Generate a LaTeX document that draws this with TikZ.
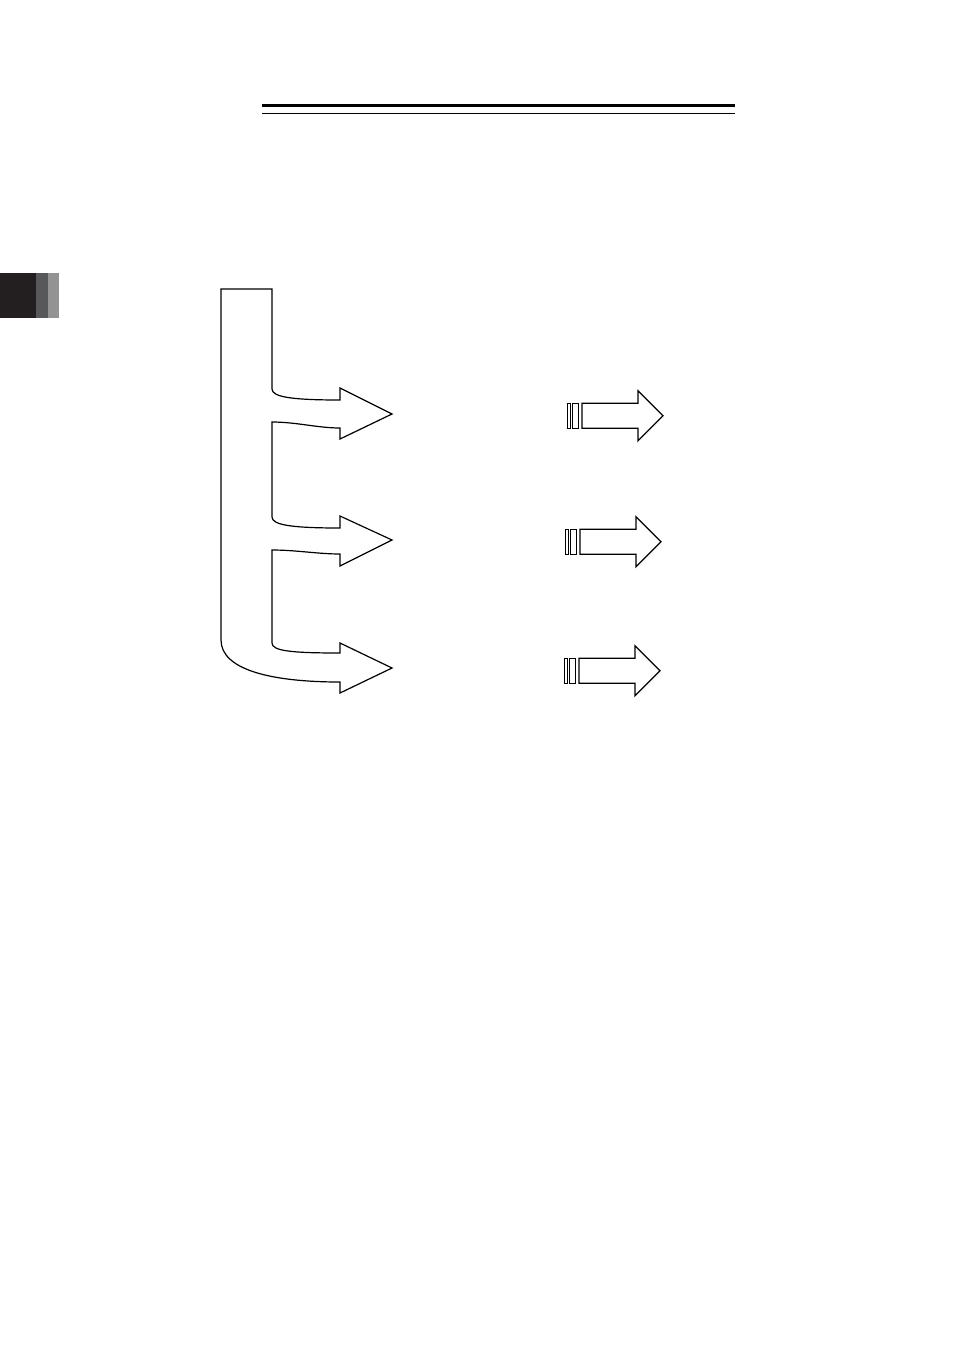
\documentclass[tikz,border=0pt]{standalone}
\usepackage{tikz}
\usetikzlibrary{positioning}

\begin{document}
\begin{tikzpicture}[x=1pt,y=-1pt,line join=miter,
                    outline/.style={draw=black,line width=1.2pt,fill=white},
                    rule/.style={draw=black,line cap=butt}]
  \useasboundingbox[fill=white] (0,0) rectangle (954,1350);

  % chapter tab
  \fill[fill={rgb,255:red,35;green,31;blue,32}]    (0,273) rectangle (36,318);
  \fill[fill={rgb,255:red,88;green,88;blue,90}]    (36,273) rectangle (48,318);
  \fill[fill={rgb,255:red,147;green,147;blue,147}] (48,273) rectangle (59,318);

  % header rules
  \draw[rule,line width=3pt]   (262,105.7) -- (735,105.7);
  \draw[rule,line width=1.4pt] (262,113.3) -- (735,113.3);

  % branching arrow
  \draw[outline] (221,289) -- (272,289) -- (272,389)
        .. controls (272,397) and (292,400) .. (340,400)
        -- (340,388) -- (392,414) -- (340,439) -- (340,428)
        .. controls (318,428) and (296,422) .. (272,422)
        -- (272,517)
        .. controls (272,525) and (292,528) .. (340,528)
        -- (340,516) -- (392,540) -- (340,566) -- (340,554)
        .. controls (318,554) and (296,550) .. (272,550)
        -- (272,643)
        .. controls (272,651) and (292,653) .. (340,653)
        -- (340,643) -- (392,668) -- (340,693) -- (340,682)
        .. controls (272,682) and (221,670) .. (221,640)
        -- cycle;

  % small arrows
  \foreach \x/\y in {582/415.8, 580/541.8, 579/670.8} {
    \draw[outline] (\x,\y-12.5) -- (\x+56,\y-12.5) -- (\x+56,\y-25)
          -- (\x+81,\y) -- (\x+56,\y+25) -- (\x+56,\y+12.5)
          -- (\x,\y+12.5) -- cycle;
    \draw[outline,line width=0.9pt] (\x-9.4,\y-12.5) rectangle (\x-3.4,\y+12.5);
    \draw[outline,line width=0.9pt] (\x-14.4,\y-12.5) rectangle (\x-11.6,\y+12.5);
  }
\end{tikzpicture}
\end{document}
